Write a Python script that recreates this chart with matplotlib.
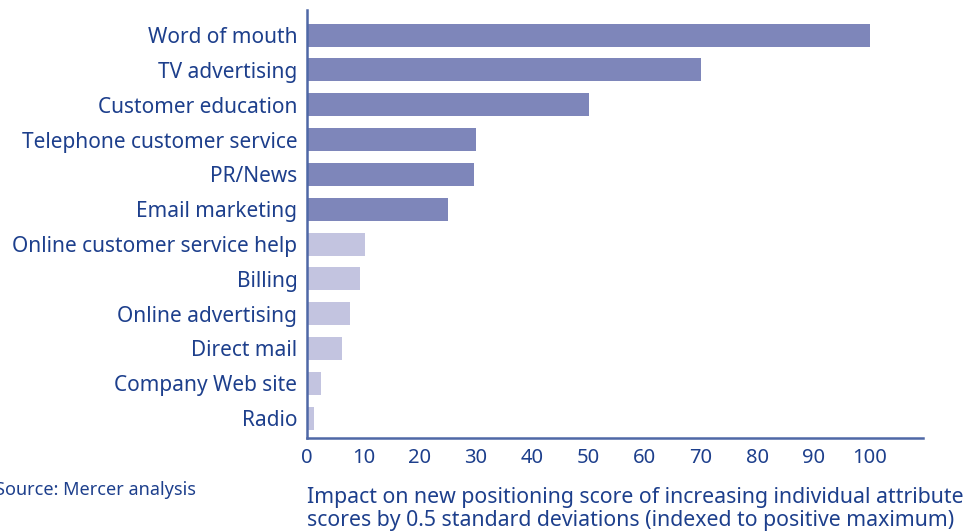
import matplotlib.pyplot as plt

categories = ["Word of mouth", "TV advertising", "Customer education",
              "Telephone customer service", "PR/News", "Email marketing",
              "Online customer service help", "Billing", "Online advertising",
              "Direct mail", "Company Web site", "Radio"]
values = [100, 70, 50, 30, 29.7, 25, 10.3, 9.4, 7.6, 6.3, 2.4, 1.3]
strong = [True] * 6 + [False] * 6
xticks = [0, 10, 20, 30, 40, 50, 60, 70, 80, 90, 100]

TEXT = "#1d3f8c"
SPINE = "#4f68a6"
DARK = "#7e86ba"
LIGHT = "#c3c4e0"

plt.rcParams["font.family"] = ["Noto Sans", "DejaVu Sans"]

fig = plt.figure(figsize=(9.68, 5.31), dpi=100)
ax = fig.add_axes([307 / 968, 1 - 438 / 531, (923 - 307) / 968, (438 - 10) / 531])

pos = list(range(len(categories)))
colors = [DARK if s else LIGHT for s in strong]
ax.barh(pos, values, height=0.66, color=colors, zorder=2)

ax.set_ylim(11.57, -0.72)
ax.set_xlim(0, 109.4)
ax.set_yticks(pos)
ax.set_yticklabels(categories, color=TEXT, fontsize=15)
ax.set_xticks(xticks)
ax.set_xticklabels([str(t) for t in xticks], color=TEXT, fontsize=14.5)
ax.tick_params(axis="both", length=0)
ax.tick_params(axis="y", pad=7)
ax.tick_params(axis="x", pad=7)

for side in ["top", "right"]:
    ax.spines[side].set_visible(False)
for side in ["left", "bottom"]:
    ax.spines[side].set_color(SPINE)
    ax.spines[side].set_linewidth(1.8)

# the reference crops the first letter of the source note
fig.text(-0.005, 1 - 490 / 531, "Source: Mercer analysis", color=TEXT,
         fontsize=13, ha="left", va="center")
fig.text(307 / 968, 1 - 509 / 531,
         "Impact on new positioning score of increasing individual attribute\n"
         "scores by 0.5 standard deviations (indexed to positive maximum)",
         color=TEXT, fontsize=15.3, ha="left", va="center", linespacing=1.15)

fig.savefig("out.png", dpi=100)
